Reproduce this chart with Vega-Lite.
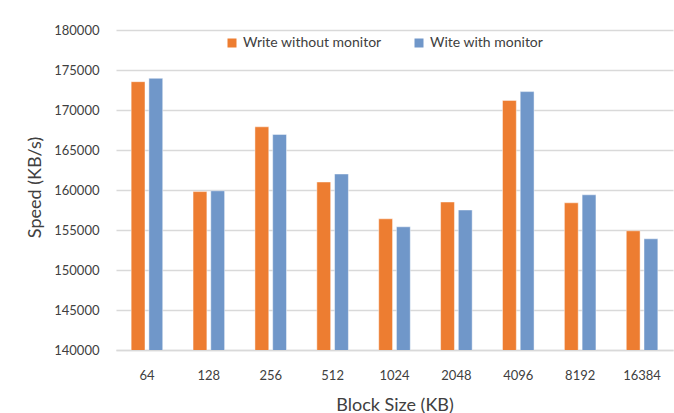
{
  "$schema": "https://vega.github.io/schema/vega-lite/v6.json",
  "width": 557,
  "height": 320,
  "autosize": {"type": "none"},
  "padding": {"left": 116, "top": 30, "right": 1, "bottom": 63},
  "background": "white",
  "data": {
    "values": [
      {"block": "64", "series": "Write without monitor", "speed": 173540},
      {"block": "64", "series": "Wite with monitor", "speed": 173960},
      {"block": "128", "series": "Write without monitor", "speed": 159800},
      {"block": "128", "series": "Wite with monitor", "speed": 159900},
      {"block": "256", "series": "Write without monitor", "speed": 167900},
      {"block": "256", "series": "Wite with monitor", "speed": 166950},
      {"block": "512", "series": "Write without monitor", "speed": 161000},
      {"block": "512", "series": "Wite with monitor", "speed": 162000},
      {"block": "1024", "series": "Write without monitor", "speed": 156400},
      {"block": "1024", "series": "Wite with monitor", "speed": 155400},
      {"block": "2048", "series": "Write without monitor", "speed": 158500},
      {"block": "2048", "series": "Wite with monitor", "speed": 157500},
      {"block": "4096", "series": "Write without monitor", "speed": 171200},
      {"block": "4096", "series": "Wite with monitor", "speed": 172300},
      {"block": "8192", "series": "Write without monitor", "speed": 158400},
      {"block": "8192", "series": "Wite with monitor", "speed": 159400},
      {"block": "16384", "series": "Write without monitor", "speed": 154900},
      {"block": "16384", "series": "Wite with monitor", "speed": 153900}
    ]
  },
  "mark": {"type": "bar", "clip": true, "stroke": "white", "strokeOpacity": 0.45, "strokeWidth": 1},
  "encoding": {
    "x": {
      "field": "block",
      "type": "nominal",
      "sort": null,
      "scale": {"paddingInner": 0.49, "paddingOuter": 0.245},
      "axis": {
        "title": "Block Size (KB)",
        "labelAngle": 0,
        "labelFont": "Lato",
        "labelFontSize": 13,
        "labelColor": "#404040",
        "labelPadding": 19,
        "labelBaseline": "top",
        "ticks": false,
        "domainColor": "#d9d9d9",
        "domainWidth": 1.5,
        "grid": false,
        "titleFont": "Lato",
        "titleFontSize": 18,
        "titleFontWeight": "normal",
        "titleColor": "#404040",
        "titleY": 55,
        "titleBaseline": "middle"
      }
    },
    "xOffset": {
      "field": "series",
      "type": "nominal",
      "sort": ["Write without monitor", "Wite with monitor"],
      "scale": {"paddingInner": 0.22}
    },
    "y": {
      "field": "speed",
      "type": "quantitative",
      "scale": {"domain": [140000, 180000], "zero": false, "nice": false},
      "axis": {
        "title": "Speed (KB/s)",
        "values": [140000, 145000, 150000, 155000, 160000, 165000, 170000, 175000, 180000],
        "format": "d",
        "labelFont": "Lato",
        "labelFontSize": 13,
        "labelColor": "#404040",
        "labelPadding": 17,
        "ticks": false,
        "domain": false,
        "gridColor": "#d9d9d9",
        "gridWidth": 1.5,
        "titleFont": "Lato",
        "titleFontSize": 18,
        "titleFontWeight": "normal",
        "titleColor": "#404040",
        "titleX": -81,
        "titleY": 157,
        "titleAngle": -90,
        "titleAlign": "center",
        "titleBaseline": "middle"
      }
    },
    "color": {
      "field": "series",
      "type": "nominal",
      "sort": ["Write without monitor", "Wite with monitor"],
      "scale": {"domain": ["Write without monitor", "Wite with monitor"], "range": ["#ED7D31", "#7097C9"]},
      "legend": {
        "title": null,
        "orient": "none",
        "direction": "horizontal",
        "legendX": 109,
        "legendY": 6,
        "symbolType": "square",
        "symbolSize": 81,
        "symbolStrokeWidth": 0,
        "labelFont": "Lato",
        "labelFontSize": 14,
        "labelColor": "#404040",
        "labelOffset": 4,
        "columnPadding": 30
      }
    }
  },
  "config": {
    "view": {"stroke": null}
  }
}
